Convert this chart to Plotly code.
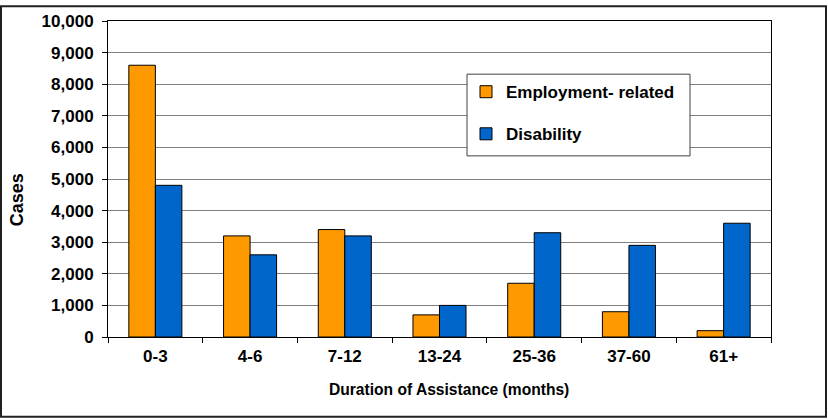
import plotly.graph_objects as go

categories = ["0-3", "4-6", "7-12", "13-24", "25-36", "37-60", "61+"]
employment = [8600, 3200, 3400, 700, 1700, 800, 200]
disability = [4800, 2600, 3200, 1000, 3300, 2900, 3600]

W, H = 828, 420
L, R, T, B = 108, 57, 16, 83
pw, ph = W - L - R, H - T - B

def px(x):
    return (x - L) / pw

def py(y):
    return (H - B - y) / ph

FAM = "Liberation Sans, Arial"
tickfont = dict(family=FAM, size=17, color="black", weight="bold")

fig = go.Figure()
fig.add_trace(go.Bar(x=categories, y=employment, name="Employment- related",
                     marker=dict(color="#FF9900", line=dict(color="black", width=1)),
                     legendgroup="a"))
fig.add_trace(go.Bar(x=categories, y=disability, name="Disability",
                     marker=dict(color="#0066CC", line=dict(color="black", width=1)),
                     legendgroup="b"))

fig.update_layout(
    width=W, height=H,
    margin=dict(l=L, r=R, t=T, b=B),
    paper_bgcolor="white", plot_bgcolor="white",
    font=tickfont,
    barmode="group", bargap=0.44, bargroupgap=0,
    showlegend=True,
    legend=dict(x=px(466), y=py(70), xanchor="left", yanchor="top",
                bgcolor="rgba(0,0,0,0)", borderwidth=0,
                tracegroupgap=17, traceorder="grouped",
                font=dict(family=FAM, size=17, color="black", weight="bold")),
    xaxis=dict(showline=True, linecolor="black", linewidth=1, mirror=True,
               ticks="outside", tickson="boundaries", ticklen=5, tickcolor="black",
               ticklabelstandoff=4, tickfont=tickfont),
    yaxis=dict(range=[0, 10000], dtick=1000, tickformat=",", showline=True,
               linecolor="black", linewidth=1, mirror=True,
               showgrid=True, gridcolor="#808080", gridwidth=1,
               ticks="outside", ticklen=5, tickcolor="black",
               ticklabelstandoff=5, tickfont=tickfont),
    annotations=[
        dict(text="Duration of Assistance (months)", xref="paper", yref="paper",
             x=px(449.5), y=py(390), xanchor="center", yanchor="middle", showarrow=False,
             font=dict(family=FAM, size=15.6, color="black", weight="bold")),
        dict(text="Cases", xref="paper", yref="paper", textangle=-90,
             x=px(16.5), y=py(197.5), xanchor="center", yanchor="middle", showarrow=False,
             font=dict(family=FAM, size=18, color="black", weight="bold")),
    ],
    shapes=[
        dict(type="rect", xref="paper", yref="paper",
             x0=px(467), x1=px(690), y0=py(153), y1=py(70),
             line=dict(color="#404040", width=1), fillcolor="white", layer="above"),
        dict(type="rect", xref="paper", yref="paper",
             x0=px(1), x1=px(826), y0=py(418), y1=py(1),
             line=dict(color="#202020", width=2), layer="above"),
    ],
)
fig.write_html("out.html", config={"displayModeBar": False},
               post_script="document.body.style.margin='0';document.body.style.overflow='hidden';")
